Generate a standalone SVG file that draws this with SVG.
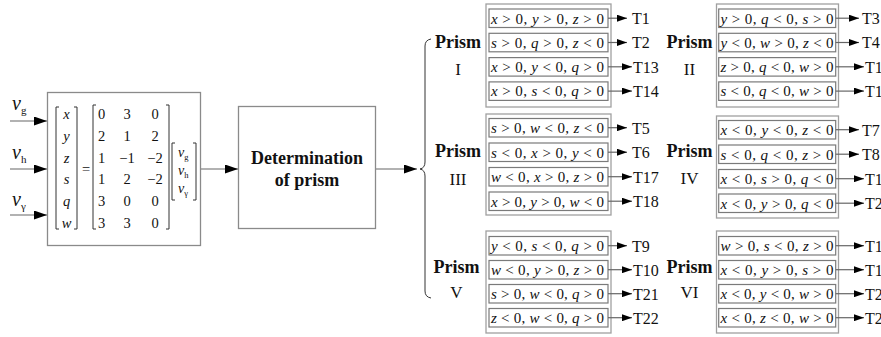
<svg xmlns="http://www.w3.org/2000/svg" width="881" height="337" viewBox="0 0 881 337" font-family="Liberation Serif, Times New Roman, serif">
<defs>
<style>
.bx{fill:#fff;stroke:#8a8a8a;stroke-width:1.3}
.ob{fill:none;stroke:#a0a0a0;stroke-width:1.3}
.ib{fill:none;stroke:#7a7a7a;stroke-width:1.2}
.ln{fill:none;stroke:#666;stroke-width:1.2}
.br{fill:none;stroke:#333;stroke-width:1}
text{font-family:'Liberation Serif','Times New Roman',serif;fill:#111}
.m{font-size:14.5px}
.i{font-style:italic}
.c{font-size:15px}
.t{font-size:16px}
.p{font-size:18px;font-weight:bold}
.n{font-size:17px}
.d{font-size:18px;font-weight:bold}
.v{font-size:20px;font-style:italic}
.sub{font-size:11px;font-style:normal}
.vs{font-size:14px;font-style:italic}
.sub2{font-size:8.5px;font-style:normal}
</style>
<marker id="ah" markerWidth="13" markerHeight="9" refX="13" refY="4.5" orient="auto" markerUnits="userSpaceOnUse">
<path d="M0,0 L13,4.5 L0,9 z" fill="#000"/>
</marker>
<marker id="sh" markerWidth="10" markerHeight="7" refX="10" refY="3.5" orient="auto" markerUnits="userSpaceOnUse">
<path d="M0,0 L10,3.5 L0,7 z" fill="#000"/>
</marker>
</defs>

<g id="connectors">
<line class="ln" x1="10" y1="121" x2="47" y2="121" marker-end="url(#ah)"/>
<line class="ln" x1="10" y1="169" x2="47" y2="169" marker-end="url(#ah)"/>
<line class="ln" x1="10" y1="215" x2="47" y2="215" marker-end="url(#ah)"/>
<line class="ln" x1="200" y1="169" x2="238" y2="169" marker-end="url(#ah)"/>
<line class="ln" x1="376" y1="169" x2="417" y2="169" marker-end="url(#ah)"/>
<path class="br" d="M431,39 Q425,40 425,46 L425,162 Q425,168 420,169 Q425,170 425,176 L425,291 Q425,297 431,298"/>
</g>

<g id="inputs">
<text class="v" x="12" y="110">v<tspan class="sub" dy="4">g</tspan></text>
<text class="v" x="12" y="159">v<tspan class="sub" dy="4">h</tspan></text>
<text class="v" x="12" y="206">v<tspan class="sub" dy="4">γ</tspan></text>
</g>

<g id="matrix">
<rect class="bx" x="47.5" y="92.5" width="153" height="153"/>
<path class="br" d="M59,107 H56 V229 H59 M74,107 H77 V229 H74"/>
<path class="br" d="M96,105 H93 V229 H96 M166,105 H169 V229 H166"/>
<path class="br" d="M175,143 H172 V200 H175 M193,143 H196 V200 H193"/>
<g class="m" text-anchor="middle">
<text class="i" x="66.5" y="119">x</text>
<text class="i" x="66.5" y="140.8">y</text>
<text class="i" x="66.5" y="162.6">z</text>
<text class="i" x="66.5" y="184.4">s</text>
<text class="i" x="66.5" y="206.2">q</text>
<text class="i" x="66.5" y="228">w</text>
<text x="86" y="174">=</text>
<text x="101.5" y="119">0</text><text x="127" y="119">3</text><text x="155" y="119">0</text>
<text x="101.5" y="140.8">2</text><text x="127" y="140.8">1</text><text x="155" y="140.8">2</text>
<text x="101.5" y="162.6">1</text><text x="127" y="162.6">−1</text><text x="155" y="162.6">−2</text>
<text x="101.5" y="184.4">1</text><text x="127" y="184.4">2</text><text x="155" y="184.4">−2</text>
<text x="101.5" y="206.2">3</text><text x="127" y="206.2">0</text><text x="155" y="206.2">0</text>
<text x="101.5" y="228">3</text><text x="127" y="228">3</text><text x="155" y="228">0</text>
</g>
<text class="vs" x="178" y="157">v<tspan class="sub2" dy="3">g</tspan></text>
<text class="vs" x="178" y="175">v<tspan class="sub2" dy="3">h</tspan></text>
<text class="vs" x="178" y="193">v<tspan class="sub2" dy="3">γ</tspan></text>
</g>

<g id="determination">
<rect class="bx" x="238.5" y="106.5" width="137" height="122"/>
<text class="d" x="307" y="164" text-anchor="middle">Determination</text>
<text class="d" x="307" y="186" text-anchor="middle">of prism</text>
</g>

<g id="prism1">
<rect class="ob" x="486" y="4" width="125" height="103"/>
<text class="p" x="458" y="48" text-anchor="middle">Prism</text>
<text class="n" x="458" y="75" text-anchor="middle">I</text>
<rect class="ib" x="489" y="9" width="119" height="18.5"/>
<rect class="ib" x="489" y="33.3" width="119" height="18.5"/>
<rect class="ib" x="489" y="57.6" width="119" height="18.5"/>
<rect class="ib" x="489" y="81.9" width="119" height="18.5"/>
<text class="c" x="491" y="23.5" textLength="113"><tspan class="i">x</tspan> &gt; 0, <tspan class="i">y</tspan> &gt; 0, <tspan class="i">z</tspan> &gt; 0</text>
<text class="c" x="491" y="47.8" textLength="113"><tspan class="i">s</tspan> &gt; 0, <tspan class="i">q</tspan> &gt; 0, <tspan class="i">z</tspan> &lt; 0</text>
<text class="c" x="491" y="72.1" textLength="113"><tspan class="i">x</tspan> &gt; 0, <tspan class="i">y</tspan> &lt; 0, <tspan class="i">q</tspan> &gt; 0</text>
<text class="c" x="491" y="96.4" textLength="113"><tspan class="i">x</tspan> &gt; 0, <tspan class="i">s</tspan> &lt; 0, <tspan class="i">q</tspan> &gt; 0</text>
<line class="ln" x1="608" y1="18.2" x2="627" y2="18.2" marker-end="url(#sh)"/>
<line class="ln" x1="608" y1="42.5" x2="627" y2="42.5" marker-end="url(#sh)"/>
<line class="ln" x1="608" y1="66.8" x2="632" y2="66.8" marker-end="url(#sh)"/>
<line class="ln" x1="608" y1="91.1" x2="632" y2="91.1" marker-end="url(#sh)"/>
<text class="t" x="632" y="24">T1</text>
<text class="t" x="632" y="48.3">T2</text>
<text class="t" x="633" y="72.6">T13</text>
<text class="t" x="633" y="96.9">T14</text>
</g>

<g id="prism2">
<rect class="ob" x="716.5" y="4" width="122" height="103"/>
<text class="p" x="689.5" y="48" text-anchor="middle">Prism</text>
<text class="n" x="689.5" y="75" text-anchor="middle">II</text>
<rect class="ib" x="718.7" y="9" width="117" height="18.5"/>
<rect class="ib" x="718.7" y="33.3" width="117" height="18.5"/>
<rect class="ib" x="718.7" y="57.6" width="117" height="18.5"/>
<rect class="ib" x="718.7" y="81.9" width="117" height="18.5"/>
<text class="c" x="720.5" y="23.5" textLength="113"><tspan class="i">y</tspan> &gt; 0, <tspan class="i">q</tspan> &lt; 0, <tspan class="i">s</tspan> &gt; 0</text>
<text class="c" x="720.5" y="47.8" textLength="113"><tspan class="i">y</tspan> &lt; 0, <tspan class="i">w</tspan> &gt; 0, <tspan class="i">z</tspan> &lt; 0</text>
<text class="c" x="720.5" y="72.1" textLength="113"><tspan class="i">z</tspan> &gt; 0, <tspan class="i">q</tspan> &lt; 0, <tspan class="i">w</tspan> &gt; 0</text>
<text class="c" x="720.5" y="96.4" textLength="113"><tspan class="i">s</tspan> &lt; 0, <tspan class="i">q</tspan> &lt; 0, <tspan class="i">w</tspan> &gt; 0</text>
<line class="ln" x1="835.7" y1="18.2" x2="859" y2="18.2" marker-end="url(#sh)"/>
<line class="ln" x1="835.7" y1="42.5" x2="859" y2="42.5" marker-end="url(#sh)"/>
<line class="ln" x1="835.7" y1="66.8" x2="864" y2="66.8" marker-end="url(#sh)"/>
<line class="ln" x1="835.7" y1="91.1" x2="864" y2="91.1" marker-end="url(#sh)"/>
<text class="t" x="862" y="24">T3</text>
<text class="t" x="862" y="48.3">T4</text>
<text class="t" x="865" y="72.6">T15</text>
<text class="t" x="865" y="96.9">T16</text>
</g>

<g id="prism3">
<rect class="ob" x="486" y="114" width="125" height="101"/>
<text class="p" x="458" y="157" text-anchor="middle">Prism</text>
<text class="n" x="458" y="185" text-anchor="middle">III</text>
<rect class="ib" x="489" y="118.5" width="119" height="18.5"/>
<rect class="ib" x="489" y="143" width="119" height="18.5"/>
<rect class="ib" x="489" y="167.5" width="119" height="18.5"/>
<rect class="ib" x="489" y="192" width="119" height="18.5"/>
<text class="c" x="491" y="133" textLength="113"><tspan class="i">s</tspan> &gt; 0, <tspan class="i">w</tspan> &lt; 0, <tspan class="i">z</tspan> &lt; 0</text>
<text class="c" x="491" y="157.5" textLength="113"><tspan class="i">s</tspan> &lt; 0, <tspan class="i">x</tspan> &gt; 0, <tspan class="i">y</tspan> &lt; 0</text>
<text class="c" x="491" y="182" textLength="113"><tspan class="i">w</tspan> &lt; 0, <tspan class="i">x</tspan> &gt; 0, <tspan class="i">z</tspan> &gt; 0</text>
<text class="c" x="491" y="206.5" textLength="113"><tspan class="i">x</tspan> &gt; 0, <tspan class="i">y</tspan> &gt; 0, <tspan class="i">w</tspan> &lt; 0</text>
<line class="ln" x1="608" y1="127.7" x2="627" y2="127.7" marker-end="url(#sh)"/>
<line class="ln" x1="608" y1="152.2" x2="627" y2="152.2" marker-end="url(#sh)"/>
<line class="ln" x1="608" y1="176.7" x2="632" y2="176.7" marker-end="url(#sh)"/>
<line class="ln" x1="608" y1="201.2" x2="632" y2="201.2" marker-end="url(#sh)"/>
<text class="t" x="632" y="133.5">T5</text>
<text class="t" x="632" y="158">T6</text>
<text class="t" x="633" y="182.5">T17</text>
<text class="t" x="633" y="207">T18</text>
</g>

<g id="prism4">
<rect class="ob" x="716.5" y="116" width="122" height="102"/>
<text class="p" x="689.5" y="157" text-anchor="middle">Prism</text>
<text class="n" x="689.5" y="184" text-anchor="middle">IV</text>
<rect class="ib" x="718.7" y="120.5" width="117" height="18.5"/>
<rect class="ib" x="718.7" y="145" width="117" height="18.5"/>
<rect class="ib" x="718.7" y="169.5" width="117" height="18.5"/>
<rect class="ib" x="718.7" y="194" width="117" height="18.5"/>
<text class="c" x="720.5" y="135" textLength="113"><tspan class="i">x</tspan> &lt; 0, <tspan class="i">y</tspan> &lt; 0, <tspan class="i">z</tspan> &lt; 0</text>
<text class="c" x="720.5" y="159.5" textLength="113"><tspan class="i">s</tspan> &lt; 0, <tspan class="i">q</tspan> &lt; 0, <tspan class="i">z</tspan> &gt; 0</text>
<text class="c" x="720.5" y="184" textLength="113"><tspan class="i">x</tspan> &lt; 0, <tspan class="i">s</tspan> &gt; 0, <tspan class="i">q</tspan> &lt; 0</text>
<text class="c" x="720.5" y="208.5" textLength="113"><tspan class="i">x</tspan> &lt; 0, <tspan class="i">y</tspan> &gt; 0, <tspan class="i">q</tspan> &lt; 0</text>
<line class="ln" x1="835.7" y1="129.7" x2="859" y2="129.7" marker-end="url(#sh)"/>
<line class="ln" x1="835.7" y1="154.2" x2="859" y2="154.2" marker-end="url(#sh)"/>
<line class="ln" x1="835.7" y1="178.7" x2="864" y2="178.7" marker-end="url(#sh)"/>
<line class="ln" x1="835.7" y1="203.2" x2="864" y2="203.2" marker-end="url(#sh)"/>
<text class="t" x="862" y="135.5">T7</text>
<text class="t" x="862" y="160">T8</text>
<text class="t" x="865" y="184.5">T19</text>
<text class="t" x="865" y="209">T20</text>
</g>

<g id="prism5">
<rect class="ob" x="486" y="231" width="125" height="102"/>
<text class="p" x="456.5" y="273" text-anchor="middle">Prism</text>
<text class="n" x="456.5" y="298" text-anchor="middle">V</text>
<rect class="ib" x="489" y="236.5" width="119" height="18.5"/>
<rect class="ib" x="489" y="260.5" width="119" height="18.5"/>
<rect class="ib" x="489" y="284.5" width="119" height="18.5"/>
<rect class="ib" x="489" y="308.5" width="119" height="18.5"/>
<text class="c" x="491" y="251" textLength="113"><tspan class="i">y</tspan> &lt; 0, <tspan class="i">s</tspan> &lt; 0, <tspan class="i">q</tspan> &gt; 0</text>
<text class="c" x="491" y="275" textLength="113"><tspan class="i">w</tspan> &lt; 0, <tspan class="i">y</tspan> &gt; 0, <tspan class="i">z</tspan> &gt; 0</text>
<text class="c" x="491" y="299" textLength="113"><tspan class="i">s</tspan> &gt; 0, <tspan class="i">w</tspan> &lt; 0, <tspan class="i">q</tspan> &gt; 0</text>
<text class="c" x="491" y="323" textLength="113"><tspan class="i">z</tspan> &lt; 0, <tspan class="i">w</tspan> &lt; 0, <tspan class="i">q</tspan> &gt; 0</text>
<line class="ln" x1="608" y1="245.7" x2="627" y2="245.7" marker-end="url(#sh)"/>
<line class="ln" x1="608" y1="269.7" x2="632" y2="269.7" marker-end="url(#sh)"/>
<line class="ln" x1="608" y1="293.7" x2="632" y2="293.7" marker-end="url(#sh)"/>
<line class="ln" x1="608" y1="317.7" x2="632" y2="317.7" marker-end="url(#sh)"/>
<text class="t" x="632" y="251.5">T9</text>
<text class="t" x="633" y="275.5">T10</text>
<text class="t" x="633" y="299.5">T21</text>
<text class="t" x="633" y="323.5">T22</text>
</g>

<g id="prism6">
<rect class="ob" x="716.5" y="231" width="122" height="102"/>
<text class="p" x="689.5" y="273" text-anchor="middle">Prism</text>
<text class="n" x="689.5" y="298" text-anchor="middle">VI</text>
<rect class="ib" x="718.7" y="236.5" width="117" height="18.5"/>
<rect class="ib" x="718.7" y="260.5" width="117" height="18.5"/>
<rect class="ib" x="718.7" y="284.5" width="117" height="18.5"/>
<rect class="ib" x="718.7" y="308.5" width="117" height="18.5"/>
<text class="c" x="720.5" y="251" textLength="113"><tspan class="i">w</tspan> &gt; 0, <tspan class="i">s</tspan> &lt; 0, <tspan class="i">z</tspan> &gt; 0</text>
<text class="c" x="720.5" y="275" textLength="113"><tspan class="i">x</tspan> &lt; 0, <tspan class="i">y</tspan> &gt; 0, <tspan class="i">s</tspan> &gt; 0</text>
<text class="c" x="720.5" y="299" textLength="113"><tspan class="i">x</tspan> &lt; 0, <tspan class="i">y</tspan> &lt; 0, <tspan class="i">w</tspan> &gt; 0</text>
<text class="c" x="720.5" y="323" textLength="113"><tspan class="i">x</tspan> &lt; 0, <tspan class="i">z</tspan> &lt; 0, <tspan class="i">w</tspan> &gt; 0</text>
<line class="ln" x1="835.7" y1="245.7" x2="864" y2="245.7" marker-end="url(#sh)"/>
<line class="ln" x1="835.7" y1="269.7" x2="864" y2="269.7" marker-end="url(#sh)"/>
<line class="ln" x1="835.7" y1="293.7" x2="864" y2="293.7" marker-end="url(#sh)"/>
<line class="ln" x1="835.7" y1="317.7" x2="864" y2="317.7" marker-end="url(#sh)"/>
<text class="t" x="865" y="251.5">T11</text>
<text class="t" x="865" y="275.5">T12</text>
<text class="t" x="865" y="299.5">T23</text>
<text class="t" x="865" y="323.5">T24</text>
</g>
</svg>
